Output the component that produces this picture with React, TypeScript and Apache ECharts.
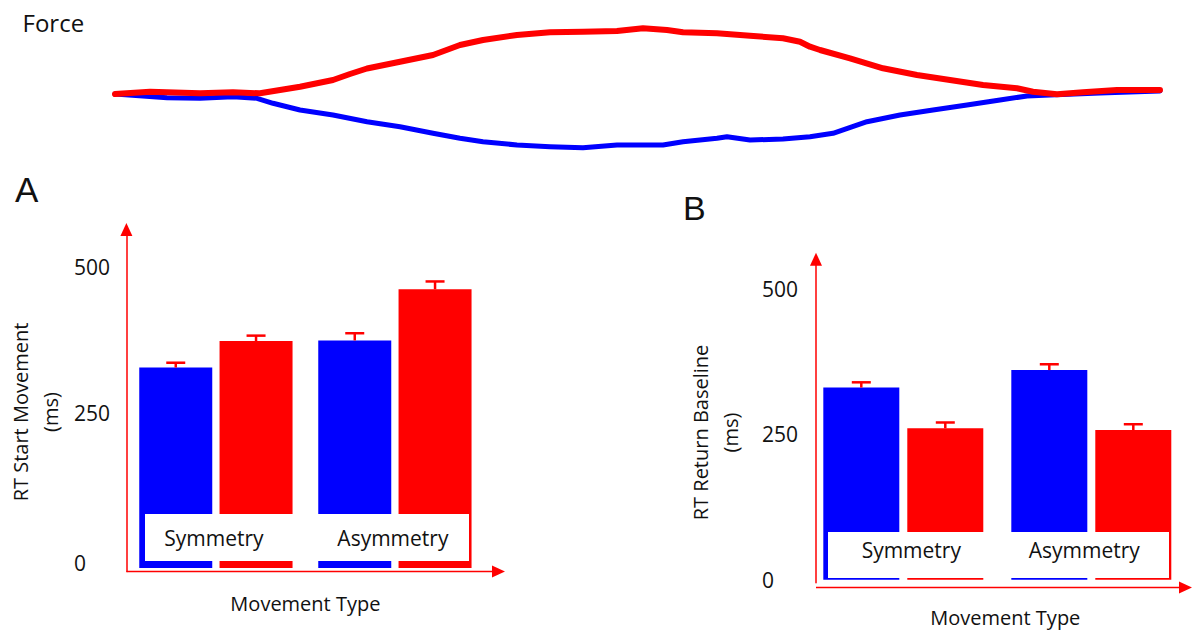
import { useEffect, useRef } from "react";
import * as echarts from "echarts";

// ---------- data ----------
// Force traces (time in samples, force in arbitrary units; baseline = 0)
const forceRedTime = [0, 35, 85, 118, 145, 185, 218, 235, 252, 285, 318, 345, 368, 402, 435, 468, 502, 528, 552, 568, 602, 635, 668, 685, 695, 705, 735, 768, 802, 835, 868, 902, 918, 942, 968, 1002, 1045];
const forceRedValue = [0, 2.3, 0.7, 1.7, 0.7, 7.3, 14, 20, 25.5, 32.3, 39, 49, 54, 59, 61.7, 62.3, 63, 65.7, 64, 61.7, 60.7, 58.3, 55.7, 52.3, 47.3, 44, 35.7, 25.7, 19, 14, 9, 5.7, 2.3, -0.3, 1.7, 4, 4];
const forceBlueTime = [0, 52, 85, 118, 142, 158, 185, 218, 252, 285, 318, 345, 368, 402, 435, 468, 502, 548, 568, 602, 612, 635, 668, 695, 718, 752, 785, 818, 852, 885, 912, 935, 985, 1045];
const forceBlueValue = [0, -3.7, -4.3, -2.7, -4.3, -9.3, -16, -21, -27.7, -32.7, -39.3, -44.3, -47.7, -51, -52.7, -53.7, -51, -51, -47.7, -44.3, -42.7, -46, -45, -42.7, -39.3, -27.7, -21, -16, -11, -6, -2, -1, 1, 3];

const movementTypes = ["Symmetry", "Asymmetry"];
const startBlue = [333, 378];
const startBlueErr = [8, 12];
const startRed = [377, 463];
const startRedErr = [9, 13];
const returnBlue = [330, 360];
const returnBlueErr = [9, 10];
const returnRed = [260, 257];
const returnRedErr = [10, 10];
const tickValues = [0, 250, 500];

const RED = "#ff0000";
const BLUE = "#0000ff";
const TXT = "#111111";
const FONT = "'Open Sans', sans-serif";

function errorRender(offset: number, halfCap: number) {
  return (_params: any, api: any) => {
    const idx = api.value(0);
    const val = api.value(1);
    const err = api.value(2);
    const side = api.value(3);
    const base = api.coord([idx, val]);
    const top = api.coord([idx, val + err]);
    const x = base[0] + side * offset;
    return {
      type: "group",
      children: [
        { type: "line", shape: { x1: x, y1: base[1], x2: x, y2: top[1] }, style: { stroke: RED, lineWidth: 2.5 } },
        { type: "line", shape: { x1: x - halfCap, y1: top[1], x2: x + halfCap, y2: top[1] }, style: { stroke: RED, lineWidth: 2.5 } },
      ],
    };
  };
}

function errData(blue: number[], blueErr: number[], red: number[], redErr: number[]) {
  const out: number[][] = [];
  blue.forEach((v, i) => out.push([i, v, blueErr[i], -1]));
  red.forEach((v, i) => out.push([i, v, redErr[i], 1]));
  return out;
}

function catAxis(gridIndex: number, margin: number, rich: any, namePad: number[], nameGap: number) {
  return {
    type: "category",
    gridIndex,
    data: movementTypes,
    z: 20,
    axisLine: { show: false, onZero: false },
    axisTick: { show: false },
    splitLine: { show: false },
    axisLabel: {
      interval: 0,
      hideOverlap: false,
      margin,
      verticalAlign: "middle",
      fontFamily: FONT,
      fontSize: 21,
      color: TXT,
      formatter: (v: string) => (v === "Symmetry" ? `{s|${v}}` : `{a|${v}}`),
      rich,
    },
    name: "Movement Type",
    nameLocation: "middle",
    nameGap,
    nameTextStyle: { fontFamily: FONT, fontSize: 20, color: TXT, lineHeight: 22, padding: namePad },
  };
}

function valAxis(gridIndex: number, min: number, max: number, labelMargin: number, name: string, nameGap: number, namePad: number[], offset: number, rich: any, richKey: (v: number) => string) {
  return {
    type: "value",
    gridIndex,
    min,
    max,
    offset,
    axisLine: {
      show: true,
      lineStyle: { color: RED, width: 1.5 },
      symbol: ["none", "triangle"],
      symbolSize: [12, 13],
    },
    axisTick: { show: false },
    splitLine: { show: false },
    axisLabel: {
      customValues: tickValues,
      align: "left",
      margin: labelMargin,
      fontFamily: FONT,
      fontSize: 21,
      color: TXT,
      formatter: (v: number) => `{${richKey(v)}|${v}}`,
      rich,
    },
    name,
    nameLocation: "middle",
    nameRotate: 90,
    nameGap,
    nameTextStyle: { fontFamily: FONT, fontSize: 20, color: TXT, lineHeight: 30, padding: namePad },
  };
}

export default function App() {
  const ref = useRef<HTMLDivElement>(null);

  useEffect(() => {
    if (!ref.current) return;
    const chart = echarts.init(ref.current, undefined, { renderer: "svg" });

    const richTxt = { fontFamily: FONT, fontSize: 21, color: TXT };

    chart.setOption({
      animation: false,
      backgroundColor: "#ffffff",
      textStyle: { fontFamily: FONT },
      grid: [
        { left: 115, top: 20, width: 1045, height: 140 },
        { left: 126.4, top: 229.5, width: 358, height: 342 },
        { left: 809.3, top: 259.2, width: 376, height: 328.3 },
      ],
      xAxis: [
        { type: "value", gridIndex: 0, min: 0, max: 1045, show: false },
        catAxis(1, -33.5, { s: { ...richTxt, padding: [0, 4, 0, 0] }, a: { ...richTxt, padding: [0, 4, 0, 0] } }, [0, 0, 0, 0], 20.5),
        catAxis(2, -32.5, { s: { ...richTxt, padding: [0, 0, 0, 16] }, a: { ...richTxt, padding: [0, 14, 0, 0] } }, [0, 0, 0, 16], 23.2),
      ],
      yAxis: [
        { type: "value", gridIndex: 0, min: -66, max: 74, show: false },
        valAxis(1, -5.8, 562.3, 52.5, "RT Start Movement\n(ms)", 60.7, [0, 23, 0, 0], 0,
          { up: { ...richTxt, padding: [0, 0, 10, 0] }, n: { ...richTxt } },
          (v) => (v === 500 ? "n" : "up")),
        valAxis(2, -5.4, 550.5, 54, "RT Return Baseline\n(ms)", 70.7, [0, 23, 0, 0], -6.7,
          { n: { ...richTxt } },
          () => "n"),
      ],
      series: [
        {
          type: "line",
          xAxisIndex: 0,
          yAxisIndex: 0,
          showSymbol: false,
          data: forceBlueTime.map((t, i) => [t, forceBlueValue[i]]),
          lineStyle: { color: BLUE, width: 5, cap: "round", join: "round" },
          itemStyle: { color: BLUE },
        },
        {
          type: "line",
          xAxisIndex: 0,
          yAxisIndex: 0,
          showSymbol: false,
          data: forceRedTime.map((t, i) => [t, forceRedValue[i]]),
          lineStyle: { color: RED, width: 6, cap: "round", join: "round" },
          itemStyle: { color: RED },
        },
        { type: "bar", xAxisIndex: 1, yAxisIndex: 1, data: startBlue, barWidth: 73, barGap: "10%", itemStyle: { color: BLUE } },
        { type: "bar", xAxisIndex: 1, yAxisIndex: 1, data: startRed, barWidth: 73, barGap: "10%", itemStyle: { color: RED } },
        {
          type: "custom",
          xAxisIndex: 1,
          yAxisIndex: 1,
          renderItem: errorRender(40.15, 9.5),
          data: errData(startBlue, startBlueErr, startRed, startRedErr),
          z: 3,
        },
        { type: "bar", xAxisIndex: 2, yAxisIndex: 2, data: returnBlue, barWidth: 76, barGap: "10.5%", itemStyle: { color: BLUE } },
        { type: "bar", xAxisIndex: 2, yAxisIndex: 2, data: returnRed, barWidth: 76, barGap: "10.5%", itemStyle: { color: RED } },
        {
          type: "custom",
          xAxisIndex: 2,
          yAxisIndex: 2,
          renderItem: errorRender(42, 9.5),
          data: errData(returnBlue, returnBlueErr, returnRed, returnRedErr),
          z: 3,
        },
      ],
      graphic: [
        { type: "text", left: 22.5, top: 10, style: { text: "Force", fontFamily: FONT, fontSize: 24, fill: TXT } },
        { type: "text", left: 15, top: 172, style: { text: "A", fontFamily: "'Liberation Sans', sans-serif", fontSize: 35, fill: TXT } },
        { type: "text", left: 683, top: 191, style: { text: "B", fontFamily: "'Liberation Sans', sans-serif", fontSize: 34, fill: TXT } },
        { type: "rect", z: 10, shape: { x: 145, y: 514, width: 324, height: 47 }, style: { fill: "#ffffff" } },
        { type: "rect", z: 10, shape: { x: 828, y: 532, width: 341, height: 46 }, style: { fill: "#ffffff" } },
        { type: "line", z: 11, shape: { x1: 126.4, y1: 571.5, x2: 493, y2: 571.5 }, style: { stroke: RED, lineWidth: 1.5 } },
        { type: "polygon", z: 11, shape: { points: [[492, 565.5], [505, 571.5], [492, 577.5]] }, style: { fill: RED } },
        { type: "line", z: 11, shape: { x1: 816, y1: 587.5, x2: 1180, y2: 587.5 }, style: { stroke: RED, lineWidth: 1.5 } },
        { type: "polygon", z: 11, shape: { points: [[1179, 581.5], [1192, 587.5], [1179, 593.5]] }, style: { fill: RED } },
      ],
    });

    return () => chart.dispose();
  }, []);

  return (
    <div
      ref={ref}
      style={{ position: "absolute", left: 0, top: 0, width: 1192, height: 633, background: "#ffffff" }}
    />
  );
}
